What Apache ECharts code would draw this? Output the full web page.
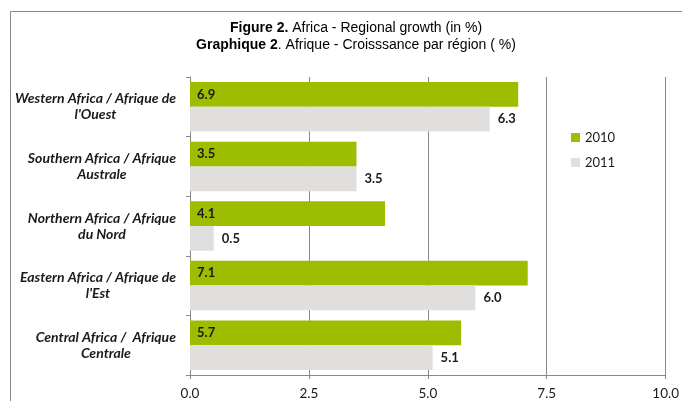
<!DOCTYPE html>
<html>
<head>
<meta charset="utf-8">
<script src="https://cdn.jsdelivr.net/npm/echarts@6/dist/echarts.min.js"></script>
<style>
html,body{margin:0;padding:0;background:#fff;}
#chart{width:682px;height:401px;}
</style>
</head>
<body>
<div id="chart"></div>
<script>
const categories = [
  "Western Africa / Afrique de\nl'Ouest",
  "Southern Africa / Afrique\nAustrale",
  "Northern Africa / Afrique\ndu Nord",
  "Eastern Africa / Afrique de\nl'Est",
  "Central Africa /  Afrique\nCentrale"
];
const values2010 = [6.9, 3.5, 4.1, 7.1, 5.7];
const values2011 = [6.3, 3.5, 0.5, 6.0, 5.1];
const seriesNames = ["2010", "2011"];
const xTicks = { min: 0, max: 10, interval: 2.5 };

const chart = echarts.init(document.getElementById('chart'), null, {renderer: 'canvas'});
const labelFont = 'Lato, "Open Sans", sans-serif';
const titleFont = '"Liberation Sans", Arial, sans-serif';
const catStyle = {
  align: 'center',
  fontFamily: labelFont,
  fontStyle: 'italic',
  fontWeight: 'bold',
  fontSize: 14,
  lineHeight: 16,
  color: '#1a1a1a'
};
chart.setOption({
  animation: false,
  backgroundColor: '#ffffff',
  title: {
    left: 356,
    top: 20,
    padding: 0,
    textAlign: 'center',
    text: '{b|Figure 2.}{n| Africa - Regional growth (in %)}\n{b|Graphique 2}{n|. Afrique - Croisssance par région ( %)}',
    textStyle: {
      fontWeight: 'normal',
      rich: {
        b: {fontFamily: titleFont, fontSize: 14, fontWeight: 'bold', color: '#000', lineHeight: 17},
        n: {fontFamily: titleFont, fontSize: 14, fontWeight: 'normal', color: '#000', lineHeight: 17}
      }
    }
  },
  graphic: [{
    type: 'polyline',
    shape: {points: [[10.5, 401], [10.5, 11.5], [682, 11.5]]},
    style: {stroke: '#8a8785', lineWidth: 1, fill: null},
    silent: true
  }],
  legend: {
    orient: 'vertical',
    left: 566,
    top: 126,
    itemWidth: 9,
    itemHeight: 9,
    itemGap: 12,
    itemTextGap: 4,
    itemStyle: {borderWidth: 0},
    textStyle: {fontFamily: labelFont, fontSize: 13, color: '#1a1a1a'},
    data: seriesNames.map(n => ({name: n, icon: 'rect'}))
  },
  grid: {left: 190, right: 16, top: 77, bottom: 25, containLabel: false},
  xAxis: {
    type: 'value',
    min: xTicks.min,
    max: xTicks.max,
    interval: xTicks.interval,
    axisLine: {show: true, lineStyle: {color: '#8a8785', width: 1}},
    axisTick: {show: true, length: 4, lineStyle: {color: '#8a8785'}},
    splitLine: {show: true, lineStyle: {color: '#8a8785', width: 1}},
    axisLabel: {
      margin: 12,
      fontFamily: labelFont,
      fontSize: 13.5,
      color: '#1a1a1a',
      formatter: v => v.toFixed(1)
    }
  },
  yAxis: {
    type: 'category',
    inverse: true,
    data: categories,
    axisLine: {show: true, lineStyle: {color: '#8a8785', width: 1}},
    axisTick: {show: true, length: 4, lineStyle: {color: '#8a8785'}},
    splitLine: {show: false},
    axisLabel: {
      margin: 14,
      align: 'right',
      fontFamily: labelFont,
      fontStyle: 'italic',
      fontWeight: 'bold',
      fontSize: 14,
      lineHeight: 16,
      color: '#1a1a1a',
      formatter: v => v.split('\n').map(s => '{c|' + s + '}').join('\n'),
      rich: {c: catStyle}
    }
  },
  series: [
    {
      name: seriesNames[0],
      type: 'bar',
      data: values2010,
      barGap: '0%',
      barCategoryGap: '17%',
      itemStyle: {color: '#9dbd00'},
      label: {
        show: true,
        position: 'insideLeft',
        distance: 7,
        fontFamily: labelFont,
        fontWeight: 'bold',
        fontSize: 13,
        color: '#1a1a1a',
        formatter: p => p.value.toFixed(1)
      }
    },
    {
      name: seriesNames[1],
      type: 'bar',
      data: values2011,
      barGap: '0%',
      barCategoryGap: '17%',
      itemStyle: {color: '#e0dfde'},
      label: {
        show: true,
        position: 'right',
        distance: 8,
        fontFamily: labelFont,
        fontWeight: 'bold',
        fontSize: 13,
        color: '#1a1a1a',
        formatter: p => p.value.toFixed(1)
      }
    }
  ]
});
</script>
</body>
</html>
